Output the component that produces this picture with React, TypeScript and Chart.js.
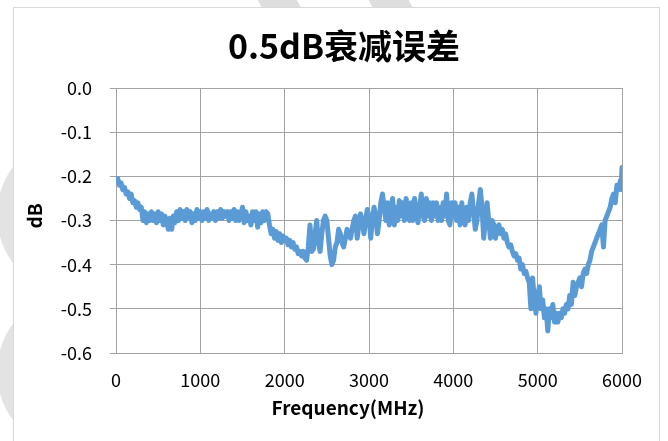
import { useEffect, useRef } from "react";
import { Chart, registerables } from "chart.js";

Chart.register(...registerables);

const TITLE = "0.5dB衰减误差";
const X_TITLE = "Frequency(MHz)";
const Y_TITLE = "dB";
const X_TICKS = [0, 1000, 2000, 3000, 4000, 5000, 6000];
const Y_TICKS = [0, -0.1, -0.2, -0.3, -0.4, -0.5, -0.6];

const FREQ_MHZ = [
  0, 20, 40, 60, 80, 100, 120, 140, 160, 180,
  200, 220, 240, 260, 280, 300, 320, 340, 360, 380,
  400, 420, 440, 460, 480, 500, 520, 540, 560, 580,
  600, 620, 640, 660, 680, 700, 720, 740, 760, 780,
  800, 820, 840, 860, 880, 900, 920, 940, 960, 980,
  1000, 1020, 1040, 1060, 1080, 1100, 1120, 1140, 1160, 1180,
  1200, 1220, 1240, 1260, 1280, 1300, 1320, 1340, 1360, 1380,
  1400, 1420, 1440, 1460, 1480, 1500, 1520, 1540, 1560, 1580,
  1600, 1620, 1640, 1660, 1680, 1700, 1720, 1740, 1760, 1780,
  1800, 1820, 1840, 1860, 1880, 1900, 1920, 1940, 1960, 1980,
  2000, 2020, 2040, 2060, 2080, 2100, 2120, 2140, 2160, 2180,
  2200, 2220, 2240, 2260, 2280, 2300, 2320, 2340, 2360, 2380,
  2400, 2420, 2440, 2460, 2480, 2500, 2520, 2540, 2560, 2580,
  2600, 2620, 2640, 2660, 2680, 2700, 2720, 2740, 2760, 2780,
  2800, 2820, 2840, 2860, 2880, 2900, 2920, 2940, 2960, 2980,
  3000, 3020, 3040, 3060, 3080, 3100, 3120, 3140, 3160, 3180,
  3200, 3220, 3240, 3260, 3280, 3300, 3320, 3340, 3360, 3380,
  3400, 3420, 3440, 3460, 3480, 3500, 3520, 3540, 3560, 3580,
  3600, 3620, 3640, 3660, 3680, 3700, 3720, 3740, 3760, 3780,
  3800, 3820, 3840, 3860, 3880, 3900, 3920, 3940, 3960, 3980,
  4000, 4020, 4040, 4060, 4080, 4100, 4120, 4140, 4160, 4180,
  4200, 4220, 4240, 4260, 4280, 4300, 4320, 4340, 4360, 4380,
  4400, 4420, 4440, 4460, 4480, 4500, 4520, 4540, 4560, 4580,
  4600, 4620, 4640, 4660, 4680, 4700, 4720, 4740, 4760, 4780,
  4800, 4820, 4840, 4860, 4880, 4900, 4920, 4940, 4960, 4980,
  5000, 5020, 5040, 5060, 5080, 5100, 5120, 5140, 5160, 5180,
  5200, 5220, 5240, 5260, 5280, 5300, 5320, 5340, 5360, 5380,
  5400, 5420, 5440, 5460, 5480, 5500, 5520, 5540, 5560, 5580,
  5600, 5620, 5640, 5660, 5680, 5700, 5720, 5740, 5760, 5780,
  5800, 5820, 5840, 5860, 5880, 5900, 5920, 5940, 5960, 5980,
  5990, 6000,
];

const ERROR_DB = [
  -0.21, -0.205, -0.22, -0.215, -0.23, -0.225, -0.24, -0.235, -0.25, -0.24,
  -0.26, -0.255, -0.27, -0.26, -0.275, -0.27, -0.3, -0.28, -0.305, -0.285,
  -0.3, -0.28, -0.3, -0.285, -0.305, -0.28, -0.3, -0.285, -0.31, -0.29,
  -0.3, -0.32, -0.295, -0.32, -0.29, -0.305, -0.28, -0.3, -0.275, -0.295,
  -0.28, -0.3, -0.275, -0.295, -0.28, -0.305, -0.285, -0.3, -0.275, -0.295,
  -0.28, -0.3, -0.28, -0.295, -0.275, -0.3, -0.285, -0.295, -0.28, -0.3,
  -0.28, -0.295, -0.275, -0.295, -0.28, -0.29, -0.28, -0.3, -0.28, -0.295,
  -0.275, -0.3, -0.28, -0.3, -0.285, -0.27, -0.305, -0.28, -0.3, -0.29,
  -0.31, -0.28, -0.3, -0.28, -0.315, -0.285, -0.305, -0.28, -0.3, -0.28,
  -0.285, -0.31, -0.33, -0.32, -0.34, -0.325, -0.345, -0.33, -0.35, -0.335,
  -0.345, -0.34, -0.355, -0.345, -0.36, -0.35, -0.365, -0.36, -0.375, -0.37,
  -0.38, -0.37, -0.385, -0.39, -0.36, -0.31, -0.37, -0.365, -0.33, -0.3,
  -0.35, -0.37, -0.33, -0.3, -0.29, -0.3, -0.34, -0.38, -0.4, -0.39,
  -0.36, -0.35, -0.32, -0.33, -0.35, -0.36, -0.34, -0.32, -0.33, -0.34,
  -0.32, -0.3, -0.29, -0.34, -0.31, -0.285, -0.3, -0.33, -0.3, -0.275,
  -0.29, -0.34, -0.3, -0.27, -0.29, -0.33, -0.3, -0.26, -0.24, -0.27,
  -0.3, -0.26, -0.31, -0.27, -0.25, -0.31, -0.27, -0.3, -0.255, -0.29,
  -0.26, -0.3, -0.25, -0.285, -0.3, -0.26, -0.3, -0.25, -0.28, -0.305,
  -0.27, -0.24, -0.29, -0.3, -0.25, -0.29, -0.26, -0.3, -0.26, -0.29,
  -0.26, -0.3, -0.27, -0.3, -0.26, -0.29, -0.24, -0.3, -0.31, -0.26,
  -0.29, -0.26, -0.3, -0.27, -0.31, -0.26, -0.29, -0.31, -0.27, -0.3,
  -0.26, -0.24, -0.28, -0.32, -0.3, -0.26, -0.23, -0.27, -0.34, -0.3,
  -0.26, -0.3, -0.34, -0.3, -0.31, -0.34, -0.32, -0.31, -0.33, -0.32,
  -0.34, -0.33, -0.35, -0.36, -0.355, -0.37, -0.38, -0.375, -0.39, -0.385,
  -0.41, -0.4, -0.42, -0.415, -0.43, -0.44, -0.5, -0.43, -0.48, -0.51,
  -0.47, -0.45, -0.5, -0.48, -0.52, -0.5, -0.55, -0.5, -0.52, -0.49,
  -0.53, -0.51, -0.53, -0.51, -0.52, -0.5, -0.51, -0.49, -0.5, -0.47,
  -0.49, -0.44, -0.47, -0.45, -0.44, -0.43, -0.45, -0.42, -0.41, -0.42,
  -0.4, -0.39, -0.37, -0.36, -0.35, -0.34, -0.33, -0.32, -0.31, -0.36,
  -0.3, -0.29, -0.28, -0.27, -0.25, -0.24, -0.26, -0.22, -0.23, -0.21,
  -0.23, -0.18,
];

const FONT = '"Noto Sans CJK SC", "Noto Sans", sans-serif';
const LINE_COLOR = "#5B9BD5";
const GRID_COLOR = "#A3A3A3";

const titlesPlugin = {
  id: "titlesPlugin",
  afterDraw(chart: any) {
    const ctx = chart.ctx as CanvasRenderingContext2D;
    ctx.save();
    ctx.fillStyle = "#000000";
    ctx.textAlign = "center";
    ctx.textBaseline = "middle";
    ctx.font = `bold 34px ${FONT}`;
    ctx.fillText(TITLE, 344, 46);
    ctx.font = `bold 19px ${FONT}`;
    ctx.fillText(X_TITLE, 348, 408);
    ctx.translate(35, 216);
    ctx.rotate(-Math.PI / 2);
    ctx.fillText(Y_TITLE, 0, 0);
    ctx.restore();
  },
};

export default function App() {
  const canvasRef = useRef<HTMLCanvasElement | null>(null);

  useEffect(() => {
    if (!canvasRef.current) return;
    const points = FREQ_MHZ.map((f, i) => ({ x: f, y: ERROR_DB[i] }));
    const chart = new Chart(canvasRef.current, {
      type: "line",
      data: {
        datasets: [
          {
            data: points,
            borderColor: LINE_COLOR,
            backgroundColor: LINE_COLOR,
            borderWidth: 5,
            pointRadius: 0,
            tension: 0,
            borderJoinStyle: "round",
            borderCapStyle: "round",
            fill: false,
          },
        ],
      },
      options: {
        animation: false,
        responsive: false,
        events: [],
        layout: { padding: { left: 0, top: 88, right: 46, bottom: 0 } },
        plugins: {
          legend: { display: false },
          title: { display: false },
          tooltip: { enabled: false },
        },
        scales: {
          x: {
            type: "linear",
            min: 0,
            max: 6000,
            afterBuildTicks: (s: any) => {
              s.ticks = X_TICKS.map((v) => ({ value: v }));
            },
            afterFit: (s: any) => {
              s.height = 88;
            },
            grid: {
              color: GRID_COLOR,
              lineWidth: 1,
              drawTicks: false,
            },
            border: { color: GRID_COLOR, width: 1 },
            ticks: {
              color: "#000000",
              font: { family: FONT, size: 18 },
              padding: 16,
              maxRotation: 0,
              autoSkip: false,
              callback: (v: any) => String(v),
            },
          },
          y: {
            type: "linear",
            min: -0.6,
            max: 0,
            afterBuildTicks: (s: any) => {
              s.ticks = Y_TICKS.map((v) => ({ value: v }));
            },
            afterFit: (s: any) => {
              s.width = 116;
            },
            grid: {
              color: GRID_COLOR,
              lineWidth: 1,
              drawTicks: true,
              tickLength: 6,
            },
            border: { color: GRID_COLOR, width: 1 },
            ticks: {
              color: "#000000",
              font: { family: FONT, size: 18 },
              padding: 18,
              autoSkip: false,
              callback: (v: any) => Number(v).toFixed(1),
            },
          },
        },
      },
      plugins: [titlesPlugin],
    } as any);
    return () => chart.destroy();
  }, []);

  return (
    <div
      style={{
        position: "fixed",
        left: 0,
        top: 0,
        width: 668,
        height: 441,
        background: "#ffffff",
        overflow: "hidden",
      }}
    >
      <svg
        width={668}
        height={441}
        style={{ position: "absolute", left: 0, top: 0 }}
      >
        <polygon points="255,-5 294,-5 330,60 291,60" fill="#DEDEDE" />
        <polygon points="366,-5 406,-5 440,60 400,60" fill="#DEDEDE" />
        <circle cx={78} cy={215} r={70} fill="none" stroke="#E3E3E3" strokeWidth={22} />
        <circle cx={78} cy={372} r={70} fill="none" stroke="#E3E3E3" strokeWidth={22} />
      </svg>
      <div
        style={{
          position: "absolute",
          left: 13,
          top: 7,
          width: 647,
          height: 460,
          border: "1px solid #D9D9D9",
          background: "#ffffff",
          boxSizing: "border-box",
        }}
      />
      <canvas
        ref={canvasRef}
        width={668}
        height={441}
        style={{ position: "absolute", left: 0, top: 0, width: 668, height: 441 }}
      />
    </div>
  );
}
